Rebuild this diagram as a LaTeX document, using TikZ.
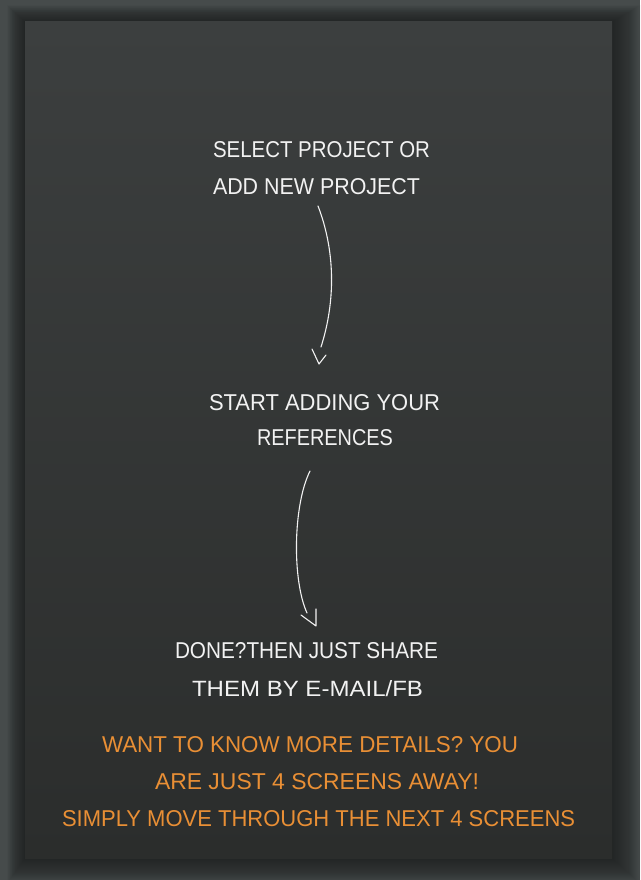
\documentclass[tikz,border=0pt]{standalone}
\usepackage{fontspec}
\usepackage{graphicx}
\setmainfont{Liberation Sans}
\definecolor{outerbg}{HTML}{464B4B}
\definecolor{paneltop}{HTML}{3C3F3F}
\definecolor{panelbot}{HTML}{2B2D2C}
\definecolor{chalk}{HTML}{F2F2F2}
\definecolor{accent}{HTML}{E98F35}
\tikzset{
  x=1pt, y=-1pt,
  txt/.style={anchor=west, inner sep=0pt, outer sep=0pt, text=chalk},
  hint/.style={txt, text=accent},
  flow/.style={draw=chalk, line width=1.1pt, line cap=round, line join=round},
}
% set a line of text stretched to a given width and cap height
\newcommand{\fitline}[2]{\resizebox{#1pt}{16pt}{#2}}
\begin{document}
\begin{tikzpicture}
  \useasboundingbox (0,0) rectangle (640,880);
  \fill[outerbg] (0,0) rectangle (640,880);
  % soft drop shadow around the panel
  \foreach \d in {1,...,26} {
    \fill[black, fill opacity=0.02]
      (25-\d*0.7,22-\d*0.65) rectangle (612+\d*1.1,858+\d*1.0);
  }
  \shade[top color=paneltop, bottom color=panelbot] (25,22) rectangle (612,858);

  % steps
  \node[txt] (s1a) at (213,150) {\fitline{217}{SELECT PROJECT OR}};
  \node[txt] (s1b) at (213,187) {\fitline{207}{ADD NEW PROJECT}};
  \node[txt] (s2a) at (209,403) {\fitline{231}{START ADDING YOUR}};
  \node[txt] (s2b) at (257,438) {\fitline{136}{REFERENCES}};
  \node[txt] (s3a) at (175,651) {\fitline{263}{DONE?THEN JUST SHARE}};
  \node[txt] (s3b) at (192,689) {\fitline{231}{THEM BY E-MAIL/FB}};

  % closing remarks
  \node[hint] (h1) at (102,745) {\fitline{416}{WANT TO KNOW MORE DETAILS? YOU}};
  \node[hint] (h2) at (155,782) {\fitline{324}{ARE JUST 4 SCREENS AWAY!}};
  \node[hint] (h3) at (62,819) {\fitline{513}{SIMPLY MOVE THROUGH THE NEXT 4 SCREENS}};

  % hand-drawn connectors
  \coordinate (a1s) at (318,206);
  \coordinate (a1e) at (321,347);
  \coordinate (a1t) at (319,364);
  \draw[flow] (a1s) .. controls (335,250) and (336,300) .. (a1e);
  \draw[flow] (312,349) -- (a1t) -- (326,355);

  \coordinate (a2s) at (310,471);
  \coordinate (a2e) at (307,613);
  \coordinate (a2t) at (316,626);
  \draw[flow] (a2s) .. controls (293,505) and (292,580) .. (a2e);
  \draw[flow] (301,615) -- (a2t) -- (316,609);
\end{tikzpicture}
\end{document}
